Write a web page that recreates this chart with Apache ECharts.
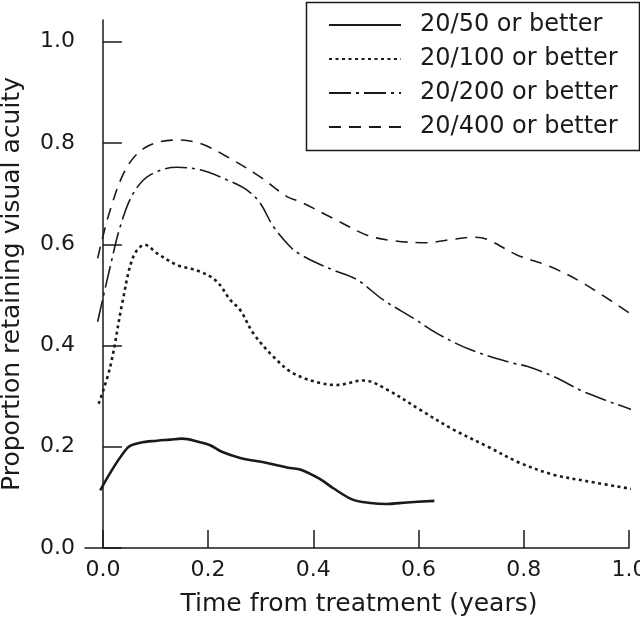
<!DOCTYPE html>
<html>
<head>
<meta charset="utf-8">
<script src="https://cdn.jsdelivr.net/npm/echarts@6/dist/echarts.min.js"></script>
<style>html,body{margin:0;padding:0;background:#fff}#c{width:640px;height:619px}</style>
</head>
<body>
<div id="c"></div>
<script>
// ---- data ----
const seriesNames = ['20/50 or better', '20/100 or better', '20/200 or better', '20/400 or better'];
const xTicks = [0, 0.2, 0.4, 0.6, 0.8, 1.0];
const yTicks = [0, 0.2, 0.4, 0.6, 0.8, 1.0];

const x2050 = [-0.005, 0.046, 0.071, 0.103, 0.128, 0.150, 0.185, 0.204, 0.226, 0.261, 0.312, 0.356, 0.375, 0.413, 0.438, 0.476, 0.508, 0.540, 0.578, 0.630];
const y2050 = [0.114, 0.197, 0.208, 0.212, 0.214, 0.216, 0.209, 0.203, 0.190, 0.178, 0.168, 0.158, 0.155, 0.136, 0.118, 0.095, 0.089, 0.087, 0.090, 0.093];

const x20100 = [-0.008, 0.014, 0.038, 0.058, 0.080, 0.103, 0.141, 0.185, 0.217, 0.242, 0.261, 0.286, 0.324, 0.362, 0.413, 0.445, 0.495, 0.540, 0.603, 0.666, 0.730, 0.793, 0.856, 0.920, 1.015];
const y20100 = [0.285, 0.358, 0.490, 0.576, 0.599, 0.582, 0.559, 0.546, 0.526, 0.490, 0.470, 0.424, 0.378, 0.345, 0.326, 0.322, 0.331, 0.313, 0.273, 0.234, 0.201, 0.168, 0.145, 0.132, 0.115];

const x20200 = [-0.010, 0.014, 0.033, 0.058, 0.090, 0.141, 0.185, 0.236, 0.274, 0.299, 0.324, 0.356, 0.375, 0.413, 0.438, 0.483, 0.533, 0.590, 0.635, 0.698, 0.780, 0.806, 0.856, 0.920, 1.015];
const y20200 = [0.447, 0.556, 0.635, 0.701, 0.737, 0.752, 0.747, 0.727, 0.707, 0.681, 0.635, 0.595, 0.580, 0.560, 0.549, 0.530, 0.490, 0.454, 0.424, 0.392, 0.365, 0.359, 0.339, 0.306, 0.270];

const x20400 = [-0.010, 0.014, 0.046, 0.084, 0.141, 0.185, 0.236, 0.299, 0.350, 0.375, 0.438, 0.502, 0.552, 0.616, 0.660, 0.705, 0.730, 0.787, 0.850, 0.913, 1.014];
const y20400 = [0.572, 0.668, 0.753, 0.793, 0.806, 0.799, 0.773, 0.733, 0.694, 0.684, 0.651, 0.618, 0.607, 0.603, 0.609, 0.614, 0.610, 0.579, 0.556, 0.523, 0.455];

// ---- chart ----
const zip = (xs, ys) => xs.map((x, i) => [x, ys[i]]);
const INK = '#1a1a1a';
const FONT = 'DejaVu Sans';
const styles = [
  { width: 2.6, type: 'solid' },
  { width: 2.6, type: [3, 3.5] },
  { width: 1.6, type: [22, 5, 3, 5] },
  { width: 1.6, type: [12, 8] }
];
const xs = [x2050, x20100, x20200, x20400];
const ys = [y2050, y20100, y20200, y20400];

const chart = echarts.init(document.getElementById('c'), null, { renderer: 'canvas' });
chart.setOption({
  animation: false,
  backgroundColor: '#fff',
  grid: { left: 85, right: 11, top: 20, bottom: 71, containLabel: false, outerBoundsMode: 'none' },
  xAxis: {
    type: 'value', min: -0.034, max: 1.0,
    name: 'Time from treatment (years)', nameLocation: 'middle', nameGap: 44,
    nameTextStyle: { fontFamily: FONT, fontSize: 25, color: INK, padding: [0, 0, 0, 4] },
    axisLine: { lineStyle: { color: INK, width: 1.5 } },
    axisTick: { inside: true, length: 18, lineStyle: { color: INK, width: 1.5 }, customValues: xTicks },
    axisLabel: { fontFamily: FONT, fontSize: 22, color: INK, margin: 11, customValues: xTicks,
      formatter: v => v.toFixed(1) },
    splitLine: { show: false }
  },
  yAxis: {
    type: 'value', min: 0, max: 1.043,
    name: 'Proportion retaining visual acuity', nameLocation: 'middle', nameGap: 52,
    nameTextStyle: { fontFamily: FONT, fontSize: 25, color: INK, padding: [0, 0, 8, 0] },
    axisLine: { lineStyle: { color: INK, width: 1.5 } },
    axisTick: { inside: true, length: 19, lineStyle: { color: INK, width: 1.5 }, customValues: yTicks },
    axisLabel: { fontFamily: FONT, fontSize: 22, color: INK, margin: 10, customValues: yTicks,
      formatter: v => v.toFixed(1) },
    splitLine: { show: false }
  },
  legend: {
    orient: 'vertical', left: 328, top: 10, padding: 0,
    itemWidth: 72, itemHeight: 14, itemGap: 4,
    textStyle: { fontFamily: FONT, fontSize: 24, color: INK, lineHeight: 30, padding: [0, 0, 0, 14] },
    itemStyle: { opacity: 0 },
    data: seriesNames
  },
  graphic: [{
    type: 'rect', left: 304, top: 0,
    shape: { width: 333, height: 148 },
    style: { fill: 'none', stroke: INK, lineWidth: 1.5 },
    z: 100
  }],
  series: seriesNames.map((n, i) => ({
    name: n, type: 'line', data: zip(xs[i], ys[i]),
    symbol: 'none', smooth: 0.35, clip: false,
    itemStyle: { color: INK, opacity: 0 },
    lineStyle: Object.assign({ color: INK }, styles[i])
  }))
});
</script>
</body>
</html>
